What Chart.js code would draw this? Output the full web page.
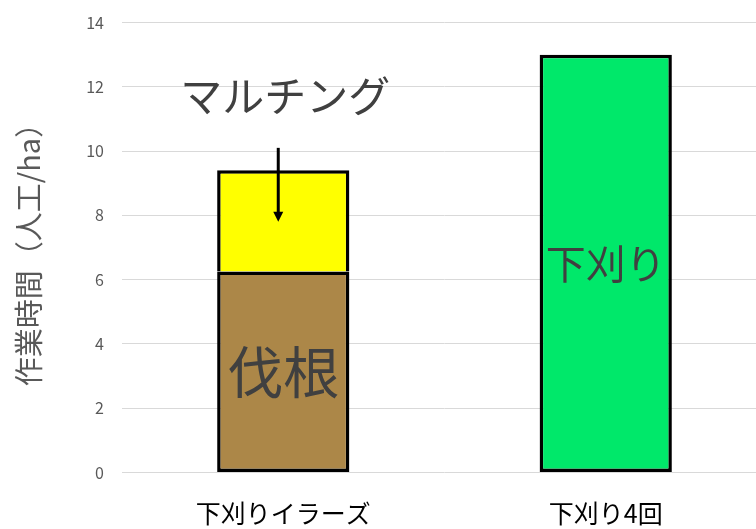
<!DOCTYPE html>
<html>
<head>
<meta charset="utf-8">
<script src="https://cdn.jsdelivr.net/npm/chart.js@4"></script>
<style>
  html, body { margin: 0; padding: 0; background: #fff; overflow: hidden; }
  #wrap { width: 767px; height: 529px; }
</style>
</head>
<body>
<div id="wrap"><canvas id="c" width="767" height="529"></canvas></div>
<script>
// Work hours per hectare, by weeding method
const categories = ['下刈りイラーズ', '下刈り4回'];
const stumpValues = [6.25, null];     // 伐根
const mulchValues = [3.15, null];     // マルチング
const weedValues  = [null, 13.0];     // 下刈り
const yTicks = [0, 2, 4, 6, 8, 10, 12, 14];

const INK = '#404040';
const JP = '"Noto Sans CJK JP", "Noto Sans", sans-serif';

// Labels written on and above the bars
const barNotes = {
  id: 'barNotes',
  afterDatasetsDraw(chart) {
    const { ctx, scales: { x, y } } = chart;
    ctx.save();
    ctx.fillStyle = INK;
    ctx.textAlign = 'center';
    ctx.textBaseline = 'middle';

    const x0 = x.getPixelForValue(0);
    const x1 = x.getPixelForValue(1);

    ctx.font = '56px ' + JP;
    ctx.fillText('伐根', x0, y.getPixelForValue(stumpValues[0] / 2));

    ctx.font = '40px ' + JP;
    ctx.fillText('下刈り', x1, y.getPixelForValue(weedValues[1] / 2));

    ctx.font = '42px ' + JP;
    ctx.fillText('マルチング', x0 + 2, y.getPixelForValue(11.7));

    // arrow pointing down into the mulching segment
    const ax = x0 - 5;
    const aTop = y.getPixelForValue(10.1);
    const aTip = y.getPixelForValue(7.8);
    ctx.strokeStyle = '#000';
    ctx.fillStyle = '#000';
    ctx.lineWidth = 3;
    ctx.beginPath();
    ctx.moveTo(ax, aTop);
    ctx.lineTo(ax, aTip - 8);
    ctx.stroke();
    ctx.beginPath();
    ctx.moveTo(ax - 5, aTip - 10);
    ctx.lineTo(ax + 5, aTip - 10);
    ctx.lineTo(ax, aTip);
    ctx.closePath();
    ctx.fill();
    ctx.restore();
  }
};

const common = {
  borderColor: '#000',
  borderWidth: 3.5,
  barPercentage: 0.41,
  categoryPercentage: 1.0
};

new Chart(document.getElementById('c'), {
  type: 'bar',
  data: {
    labels: categories,
    datasets: [
      Object.assign({ label: '伐根', data: stumpValues, backgroundColor: '#ac8748', borderSkipped: false }, common),
      Object.assign({ label: 'マルチング', data: mulchValues, backgroundColor: '#ffff00', borderSkipped: 'bottom' }, common),
      Object.assign({ label: '下刈り', data: weedValues, backgroundColor: '#00e86a', borderSkipped: false }, common)
    ]
  },
  options: {
    responsive: false,
    animation: false,
    events: [],
    layout: { padding: { top: 22.5, right: 0, bottom: 0, left: 0 } },
    plugins: { legend: { display: false }, tooltip: { enabled: false } },
    scales: {
      x: {
        stacked: true,
        grid: { display: false, drawTicks: false },
        border: { display: false },
        ticks: { color: '#000', font: { family: JP, size: 25 }, padding: 26 },
        afterFit(s) { s.height = 56.5; s.paddingLeft = 0; s.paddingRight = 0; }
      },
      y: {
        stacked: true,
        min: 0,
        max: 14,
        afterBuildTicks(s) { s.ticks = yTicks.map(v => ({ value: v })); },
        grid: { color: '#d9d9d9', lineWidth: 1, drawTicks: false },
        border: { display: false },
        ticks: { color: '#595959', font: { family: JP, size: 16 }, padding: 18 },
        title: {
          display: true,
          text: '作業時間（人工/ha）',
          color: '#595959',
          font: { family: JP, size: 29 },
          padding: { top: 12, bottom: 0 }
        },
        afterFit(s) { s.width = 122; s.paddingTop = 0; s.paddingBottom = 0; }
      }
    }
  },
  plugins: [barNotes]
});
</script>
</body>
</html>
